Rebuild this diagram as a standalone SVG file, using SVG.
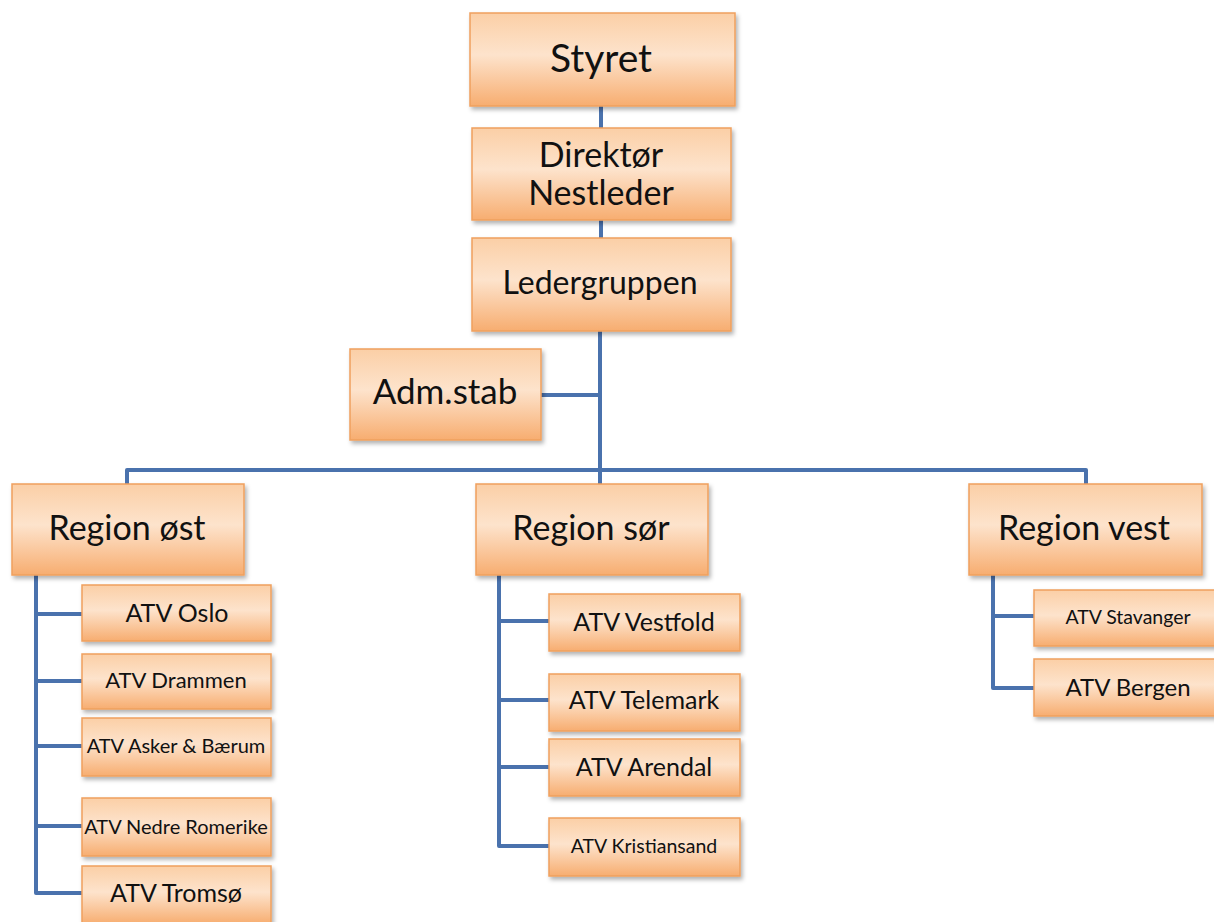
<svg xmlns="http://www.w3.org/2000/svg" width="1214" height="922" viewBox="0 0 1214 922">
<defs>
<linearGradient id="g" x1="0" y1="0" x2="0" y2="1">
<stop offset="0" stop-color="#fbcfa6"/>
<stop offset="0.45" stop-color="#fde3cc"/>
<stop offset="1" stop-color="#f7ad70"/>
</linearGradient>
<filter id="sh" x="-10%" y="-10%" width="125%" height="130%">
<feDropShadow dx="2" dy="3" stdDeviation="2" flood-color="#000" flood-opacity="0.3"/>
</filter>
</defs>
<style>
.box{fill:url(#g);stroke:#efa05e;stroke-width:1.5;filter:url(#sh)}
text{font-family:Lato,"Open Sans",sans-serif;fill:#111;text-anchor:middle}
.c{fill:none;stroke:#4a72ad;stroke-width:4;stroke-linejoin:round}
</style>
<rect width="1214" height="922" fill="#fff"/>
<g id="connectors">
<path class="c" d="M601 106V128M601 220V238M600 331V470M541 395H600M127 484V470H1086V484M600 470V484"/>
<path class="c" d="M36 575V893H82M36 614H82M36 681H82M36 746H82M36 826H82"/>
<path class="c" d="M499 575V846H549M499 621H549M499 700H549M499 767H549"/>
<path class="c" d="M993 575V688H1034M993 616H1034"/>
</g>
<g id="styret"><rect class="box" x="470" y="13" width="265" height="93"/><text x="601" y="72" font-size="39">Styret</text></g>
<g id="direktor"><rect class="box" x="472" y="128" width="259" height="92"/><text x="601" y="167" font-size="34">Direktør</text><text x="601" y="205" font-size="34">Nestleder</text></g>
<g id="ledergruppen"><rect class="box" x="472" y="238" width="259" height="93"/><text x="600" y="294" font-size="32">Ledergruppen</text></g>
<g id="admstab"><rect class="box" x="350" y="349" width="191" height="91"/><text x="445" y="404" font-size="35">Adm.stab</text></g>
<g id="region-ost"><rect class="box" x="12" y="484" width="232" height="91"/><text x="127" y="540" font-size="34">Region øst</text></g>
<g id="region-sor"><rect class="box" x="476" y="484" width="232" height="91"/><text x="591" y="540" font-size="34">Region sør</text></g>
<g id="region-vest"><rect class="box" x="969" y="484" width="233" height="91"/><text x="1084" y="540" font-size="34">Region vest</text></g>
<g id="atv-oslo"><rect class="box" x="82" y="585" width="189" height="56"/><text x="177" y="622" font-size="25">ATV Oslo</text></g>
<g id="atv-drammen"><rect class="box" x="82" y="654" width="189" height="55"/><text x="176" y="688" font-size="22">ATV Drammen</text></g>
<g id="atv-asker"><rect class="box" x="82" y="718" width="189" height="58"/><text x="176" y="753" font-size="20">ATV Asker &amp; Bærum</text></g>
<g id="atv-nedre-romerike"><rect class="box" x="82" y="798" width="189" height="58"/><text x="176" y="834" font-size="20">ATV Nedre Romerike</text></g>
<g id="atv-tromso"><rect class="box" x="82" y="866" width="189" height="58"/><text x="176" y="902" font-size="25">ATV Tromsø</text></g>
<g id="atv-vestfold"><rect class="box" x="549" y="594" width="191" height="57"/><text x="644" y="631" font-size="25">ATV Vestfold</text></g>
<g id="atv-telemark"><rect class="box" x="549" y="674" width="191" height="57"/><text x="644" y="709" font-size="25">ATV Telemark</text></g>
<g id="atv-arendal"><rect class="box" x="549" y="739" width="191" height="57"/><text x="644" y="776" font-size="25">ATV Arendal</text></g>
<g id="atv-kristiansand"><rect class="box" x="549" y="818" width="191" height="58"/><text x="644" y="853" font-size="19.5">ATV Kristiansand</text></g>
<g id="atv-stavanger"><rect class="box" x="1034" y="590" width="185" height="56"/><text x="1128" y="624" font-size="19.5">ATV Stavanger</text></g>
<g id="atv-bergen"><rect class="box" x="1034" y="659" width="185" height="57"/><text x="1128" y="696" font-size="24">ATV Bergen</text></g>
</svg>
